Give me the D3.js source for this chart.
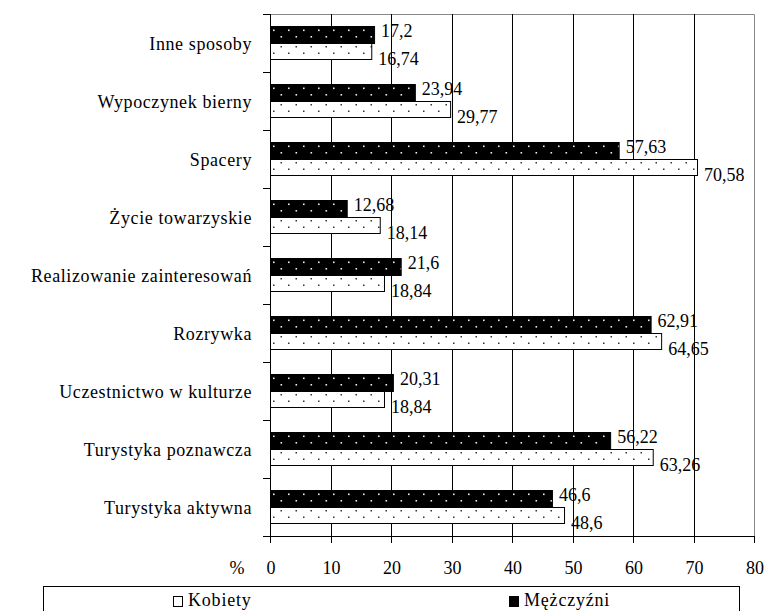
<!DOCTYPE html>
<html>
<head>
    <meta charset="utf-8">
    <style>
        body { margin: 0; background: white; }
        text { font-family: "Liberation Serif", "Times New Roman", serif; fill: black; }
        .cat { font-size: 18px; letter-spacing: 0.6px; }
        .val { font-size: 18px; }
        .tick-lab { font-size: 18px; }
        .leg { font-size: 18px; letter-spacing: 0.8px; }
    </style>
</head>
<body>
<svg width="767" height="611"></svg>

<script src="https://d3js.org/d3.v7.min.js"></script>
<script>
    // categories, top to bottom
    let categories = [
        "Inne sposoby",
        "Wypoczynek bierny",
        "Spacery",
        "Życie towarzyskie",
        "Realizowanie zainteresowań",
        "Rozrywka",
        "Uczestnictwo w kulturze",
        "Turystyka poznawcza",
        "Turystyka aktywna"
    ]
    let kobiety = [16.74, 29.77, 70.58, 18.14, 18.84, 64.65, 18.84, 63.26, 48.6]
    let mezczyzni = [17.2, 23.94, 57.63, 12.68, 21.6, 62.91, 20.31, 56.22, 46.6]
    let xTicks = [0, 10, 20, 30, 40, 50, 60, 70, 80]
    let seriesNames = ["Kobiety", "Mężczyźni"]

    let svg = d3.select("svg")

    let plotL = 270, plotR = 754, plotT = 14, plotB = 536

    let x = d3.scaleLinear().domain([0, 80]).range([plotL, plotR])
    let y = d3.scaleBand().domain(categories).range([plotT, plotB])

    let fmt = v => String(v).replace(".", ",")

    // dot patterns
    let defs = svg.append("defs")
    let pDark = defs.append("pattern")
        .attr("id", "dotsDark")
        .attr("patternUnits", "userSpaceOnUse")
        .attr("width", 15).attr("height", 14)
    pDark.append("rect").attr("width", 15).attr("height", 14).attr("fill", "black")
    pDark.append("rect").attr("x", 3).attr("y", 3.5).attr("width", 1.6).attr("height", 1.6).attr("fill", "#eee")
    pDark.append("rect").attr("x", 10.5).attr("y", 10).attr("width", 1.6).attr("height", 1.6).attr("fill", "#eee")

    let pLight = defs.append("pattern")
        .attr("id", "dotsLight")
        .attr("patternUnits", "userSpaceOnUse")
        .attr("width", 15).attr("height", 14)
    pLight.append("rect").attr("width", 15).attr("height", 14).attr("fill", "white")
    pLight.append("rect").attr("x", 10.5).attr("y", 3).attr("width", 1.5).attr("height", 1.5).attr("fill", "#333")
    pLight.append("rect").attr("x", 3).attr("y", 9.5).attr("width", 1.5).attr("height", 1.5).attr("fill", "#333")

    // plot border (gray) top and right
    svg.append("path")
        .attr("d", `M${plotL},${plotT + 0.5}H${plotR + 0.5}V${plotB}`)
        .style("fill", "none")
        .style("stroke", "#888")
        .style("stroke-width", 1)

    // gridlines
    svg.selectAll(".grid")
        .data(xTicks.slice(1, -1))
        .join("line")
        .attr("x1", d => Math.round(x(d)) + 0.5)
        .attr("x2", d => Math.round(x(d)) + 0.5)
        .attr("y1", plotT)
        .attr("y2", plotB)
        .style("stroke", "black")
        .style("stroke-width", 1)

    let darkH = 17, lightH = 16

    // bars
    categories.forEach((c, i) => {
        let cy = Math.round(y(c) + y.bandwidth() / 2)

        let gd = svg.append("g").attr("transform", `translate(${plotL},${cy - darkH})`)
        gd.append("rect")
            .attr("x", 0.5).attr("y", 0.5)
            .attr("width", x(mezczyzni[i]) - plotL)
            .attr("height", darkH)
            .style("fill", "url(#dotsDark)")
            .style("stroke", "black")

        let gl = svg.append("g").attr("transform", `translate(${plotL},${cy})`)
        gl.append("rect")
            .attr("x", 0.5).attr("y", 0.5)
            .attr("width", x(kobiety[i]) - plotL)
            .attr("height", lightH)
            .style("fill", "url(#dotsLight)")
            .style("stroke", "black")

        svg.append("text")
            .attr("class", "val")
            .attr("x", x(mezczyzni[i]) + 7)
            .attr("y", cy - darkH / 2 - 4)
            .attr("dy", "0.35em")
            .text(fmt(mezczyzni[i]))

        svg.append("text")
            .attr("class", "val")
            .attr("x", x(kobiety[i]) + 7)
            .attr("y", cy + lightH / 2 + 8)
            .attr("dy", "0.35em")
            .text(fmt(kobiety[i]))
    })

    // left axis
    svg.append("line")
        .attr("x1", plotL + 0.5).attr("x2", plotL + 0.5)
        .attr("y1", plotT).attr("y2", plotB)
        .style("stroke", "black")

    let bounds = categories.map(c => y(c)).concat([plotB])
    svg.selectAll(".ytick")
        .data(bounds)
        .join("line")
        .attr("x1", plotL - 7).attr("x2", plotL)
        .attr("y1", d => Math.round(d) + 0.5)
        .attr("y2", d => Math.round(d) + 0.5)
        .style("stroke", "black")

    svg.selectAll(".cat")
        .data(categories)
        .join("text")
        .attr("class", "cat")
        .attr("x", 252)
        .attr("y", d => y(d) + y.bandwidth() / 2 + 1)
        .attr("dy", "0.35em")
        .attr("text-anchor", "end")
        .text(d => d)

    // bottom axis
    svg.append("line")
        .attr("x1", plotL - 7).attr("x2", plotR)
        .attr("y1", plotB + 0.5).attr("y2", plotB + 0.5)
        .style("stroke", "black")

    svg.selectAll(".xtick")
        .data(xTicks)
        .join("line")
        .attr("x1", d => Math.round(x(d)) + 0.5)
        .attr("x2", d => Math.round(x(d)) + 0.5)
        .attr("y1", plotB)
        .attr("y2", plotB + 7)
        .style("stroke", "black")

    svg.selectAll(".tick-lab")
        .data(xTicks)
        .join("text")
        .attr("class", "tick-lab")
        .attr("x", d => x(d) + 1)
        .attr("y", 568)
        .attr("dy", "0.35em")
        .attr("text-anchor", "middle")
        .text(d => d)

    svg.append("text")
        .attr("class", "tick-lab")
        .attr("x", 237)
        .attr("y", 568)
        .attr("dy", "0.35em")
        .attr("text-anchor", "middle")
        .text("%")

    // legend
    svg.append("rect")
        .attr("x", 43.5).attr("y", 586.5)
        .attr("width", 696).attr("height", 40)
        .style("fill", "white")
        .style("stroke", "black")

    let legX = [173, 509]
    let legFill = ["white", "black"]
    seriesNames.forEach((n, i) => {
        svg.append("rect")
            .attr("x", legX[i] + 0.5).attr("y", 596.5)
            .attr("width", 9).attr("height", 10)
            .style("fill", legFill[i])
            .style("stroke", "black")
        svg.append("text")
            .attr("class", "leg")
            .attr("x", legX[i] + 15)
            .attr("y", 600)
            .attr("dy", "0.35em")
            .text(n)
    })
</script>
</body>
</html>
